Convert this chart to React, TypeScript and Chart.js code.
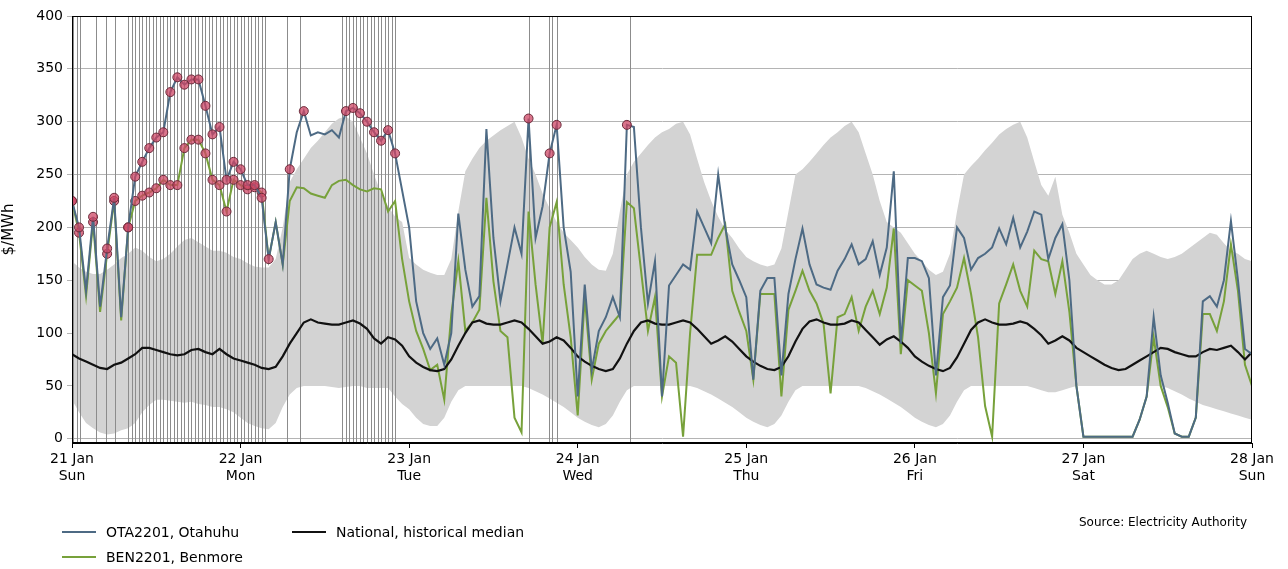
import React, { useEffect, useRef } from "react";
import { Chart, registerables } from "chart.js";
Chart.register(...registerables);

const dayLabels = ["21 Jan", "22 Jan", "23 Jan", "24 Jan", "25 Jan", "26 Jan", "27 Jan", "28 Jan"];
const weekdays = ["Sun", "Mon", "Tue", "Wed", "Thu", "Fri", "Sat", "Sun"];

// hourly values from 21 Jan 00:00 to 28 Jan 00:00
const otaValues = [
  225, 200, 140, 210, 125, 180, 228, 115, 200, 248, 262, 275, 285, 290, 328, 342, 335, 340, 340, 315, 288, 295, 245, 262,
  255, 240, 240, 228, 170, 205, 165, 255, 290, 310, 287, 290, 288, 292, 285, 310, 313, 308, 300, 290, 282, 292, 270, 235,
  200, 130, 100, 85, 95, 70, 100, 213, 160, 125, 135, 293, 190, 130, 165, 200, 175, 303, 190, 220, 270, 297, 200, 158,
  40, 146, 65, 102, 115, 134, 115, 297, 295, 200, 128, 168, 40, 145, 155, 165, 160, 215, 200, 185, 250, 200, 165, 150,
  134, 56, 140, 152, 152, 60, 137, 170, 199, 165, 146, 143, 141, 159, 170, 184, 165, 170, 187, 155, 181, 253, 90, 171,
  171, 168, 152, 60, 134, 145, 200, 190, 160, 171, 175, 181, 199, 184, 209, 181, 196, 215, 212, 170, 190, 203, 150, 50,
  2, 2, 2, 2, 2, 2, 2, 2, 18, 40, 115, 60, 34, 5, 2, 2, 20, 130, 135, 125, 150, 206, 150, 85,
  80,
];
const benValues = [
  225, 195, 135, 205, 120, 175, 225, 112, 200, 225, 230, 233, 237, 245, 240, 240, 275, 283, 283, 270, 245, 240, 215, 245,
  240, 236, 238, 233, 170, 205, 165, 225, 238, 237, 232, 230, 228, 240, 244, 245, 240, 236, 234, 237, 236, 215, 225, 170,
  130, 102, 85, 65, 70, 37, 118, 168, 102, 110, 122, 228, 149, 102, 96, 20, 6, 215, 146, 90, 200, 224, 146, 96,
  22, 134, 56, 90, 102, 110, 118, 224, 218, 160, 102, 134, 40, 78, 72, 2, 100, 174, 174, 174, 190, 203, 140, 120,
  102, 56, 137, 137, 137, 40, 122, 140, 159, 140, 128, 109, 43, 115, 118, 134, 102, 125, 140, 118, 143, 199, 80, 150,
  145, 140, 100, 43, 118, 130, 143, 171, 137, 96, 31, 2, 128, 146, 165, 140, 125, 178, 170, 168, 137, 168, 120, 50,
  2, 2, 2, 2, 2, 2, 2, 2, 18, 40, 96, 50, 30, 5, 2, 2, 20, 118, 118, 102, 130, 184, 140, 70,
  50,
];
const medianValues = [
  80, 76, 73, 70, 67, 66, 70, 72, 76, 80, 86, 86, 84, 82, 80, 79, 80, 84, 85, 82, 80, 85, 80, 76,
  74, 72, 70, 67, 66, 68, 78, 90, 100, 110, 113, 110, 109, 108, 108, 110, 112, 109, 104, 95, 90, 96, 94, 88,
  78, 72, 68, 65, 64, 66, 75, 88, 100, 110, 112, 109, 108, 108, 110, 112, 110, 104, 97, 90, 92, 96, 93, 86,
  78, 73, 69, 66, 64, 66, 76, 90, 102, 110, 112, 109, 108, 108, 110, 112, 110, 104, 97, 90, 93, 97, 92, 85,
  78, 73, 69, 66, 65, 68, 78, 92, 104, 111, 113, 110, 108, 108, 109, 112, 110, 103, 96, 89, 94, 97, 92, 86,
  78, 73, 69, 66, 64, 67, 77, 90, 103, 110, 113, 110, 108, 108, 109, 111, 109, 104, 98, 90, 93, 97, 93, 86,
  82, 78, 74, 70, 67, 65, 66, 70, 74, 78, 82, 86, 85, 82, 80, 78, 78, 82, 85, 84, 86, 88, 82, 75,
  82,
];
const bandUpper = [
  168, 162, 158, 156, 156, 160, 165, 171, 175, 181, 178, 172, 168, 170, 175, 182, 188, 190, 186, 182, 178, 178, 176, 172,
  170, 166, 163, 162, 162, 170, 200, 243, 255, 265, 275, 282, 290, 298, 303, 305, 300, 285, 270, 250, 232, 220, 210, 205,
  171, 165, 160, 157, 155, 155, 170, 215, 253, 265, 275, 282, 287, 292, 296, 300, 285, 265, 250, 232, 218, 205, 195, 188,
  181, 172, 165, 160, 159, 175, 215, 250, 262, 270, 278, 285, 290, 293, 298, 300, 288, 265, 243, 225, 210, 198, 190, 180,
  172, 168, 165, 163, 165, 180, 215, 250, 255, 262, 270, 278, 285, 290, 296, 300, 290, 270, 250, 225, 205, 200, 195, 185,
  175, 168, 160, 155, 158, 175, 215, 250, 258, 265, 273, 280, 288, 293, 297, 300, 285, 262, 240, 230, 248, 212, 195, 175,
  165, 155, 150, 146, 146, 150, 160, 170, 175, 178, 175, 172, 170, 172, 175, 180, 185, 190, 195, 193, 185, 178, 175, 170,
  168,
];
const bandLower = [
  37, 25, 15, 10, 6, 4, 5, 8, 10, 15, 25, 32, 37, 37, 36, 35, 34, 35, 33, 32, 30, 30, 28, 25,
  20, 15, 12, 10, 9, 15, 30, 42, 48, 50, 50, 50, 50, 49, 48, 49, 50, 50, 48, 48, 48, 48, 40, 33,
  28, 20, 14, 12, 12, 20, 35, 46, 50, 50, 50, 50, 50, 50, 50, 50, 50, 48, 45, 42, 38, 34, 30, 25,
  20, 16, 13, 11, 14, 22, 35, 46, 50, 50, 50, 50, 50, 50, 50, 50, 50, 48, 45, 42, 38, 34, 30, 25,
  20, 16, 13, 11, 14, 22, 35, 46, 50, 50, 50, 50, 50, 50, 50, 50, 50, 48, 45, 42, 38, 34, 30, 25,
  20, 16, 13, 11, 14, 22, 35, 46, 50, 50, 50, 50, 50, 50, 50, 50, 50, 48, 46, 44, 44, 46, 48, 50,
  50, 50, 50, 50, 50, 50, 50, 50, 50, 50, 50, 50, 48, 45, 42, 38, 35, 32, 30, 28, 26, 24, 22, 20,
  18,
];
// times (hours from 21 Jan 00:00) of flagged trading periods
const eventTimes = [
  0.2, 0.7, 1.1, 3.4, 4.9, 6.1,
  8, 8.5, 9, 9.5, 10, 10.5, 11, 11.5, 12, 12.5, 13, 13.5, 14, 14.5, 15, 15.5, 16, 16.5, 17, 17.5,
  18, 18.5, 19, 19.5, 20, 20.5, 21, 21.5, 22, 22.5, 23, 23.5, 24, 24.5, 25, 25.5, 26, 26.5, 27, 27.5,
  30.6, 32.5,
  38.5, 39, 39.5, 40, 40.5, 41, 41.5, 42, 42.5, 43, 43.5, 44, 44.5, 45, 45.5, 46,
  65, 67.9, 68.3, 69, 79.4,
];
const otaMarkerHours = [0, 1, 3, 5, 6, 8, 9, 10, 11, 12, 13, 14, 15, 16, 17, 18, 19, 20, 21, 22, 23, 24, 25, 26, 27, 28, 31, 33, 39, 40, 41, 42, 43, 44, 45, 46, 65, 68, 69, 79];
const benMarkerHours = [0, 1, 3, 5, 6, 8, 9, 10, 11, 12, 13, 14, 15, 16, 17, 18, 19, 20, 21, 22, 23, 24, 25, 26, 27];

const toXY = (arr: number[]) => arr.map((y, i) => ({ x: i, y }));

export default function App() {
  const ref = useRef<HTMLCanvasElement>(null);
  useEffect(() => {
    if (!ref.current) return;
    const font = { family: "DejaVu Sans", size: 14 };
    const eventLines = {
      id: "eventLines",
      afterDatasetDraw(chart: any, args: any) {
        if (args.index !== 1) return;
        const { ctx, chartArea, scales } = chart;
        ctx.save();
        ctx.strokeStyle = "#8c8c8c";
        ctx.lineWidth = 1;
        eventTimes.forEach((t) => {
          const x = Math.round(scales.x.getPixelForValue(t)) + 0.5;
          ctx.beginPath();
          ctx.moveTo(x, chartArea.top);
          ctx.lineTo(x, chartArea.bottom);
          ctx.stroke();
        });
        ctx.restore();
      },
    };
    const frame = {
      id: "frame",
      afterDraw(chart: any) {
        const { ctx, chartArea } = chart;
        ctx.save();
        ctx.strokeStyle = "#000";
        ctx.lineWidth = 1;
        ctx.strokeRect(chartArea.left + 0.5, chartArea.top + 0.5, chartArea.width - 1, chartArea.height - 1);
        ctx.restore();
      },
    };
    const markerR = (set: number[]) => (c: any) => (set.includes(c.dataIndex) ? 4.5 : 0);
    const chart = new Chart(ref.current, {
      type: "line",
      data: {
        datasets: [
          { label: "lower", data: toXY(bandLower), borderWidth: 0, pointRadius: 0, fill: false, order: 6, borderColor: "rgba(0,0,0,0)" },
          { label: "upper", data: toXY(bandUpper), borderWidth: 0, pointRadius: 0, fill: "-1", backgroundColor: "#d3d3d3", order: 5, borderColor: "rgba(0,0,0,0)" },
          { label: "National, historical median", data: toXY(medianValues), borderColor: "#111", borderWidth: 2.2, pointRadius: 0, order: 2 },
          {
            label: "BEN2201, Benmore", data: toXY(benValues), borderColor: "#77a13a", borderWidth: 2, order: 3,
            pointRadius: markerR(benMarkerHours) as any, pointBackgroundColor: "rgba(205,70,100,0.75)", pointBorderColor: "#6b2a3a", pointBorderWidth: 1,
          },
          {
            label: "OTA2201, Otahuhu", data: toXY(otaValues), borderColor: "#4d6a84", borderWidth: 2, order: 1,
            pointRadius: markerR(otaMarkerHours) as any, pointBackgroundColor: "rgba(205,70,100,0.75)", pointBorderColor: "#6b2a3a", pointBorderWidth: 1,
          },
        ],
      },
      options: {
        animation: false,
        responsive: false,
        maintainAspectRatio: false,
        layout: { padding: { left: 0, right: 36, top: 16, bottom: 66 } },
        plugins: { legend: { display: false }, tooltip: { enabled: false } },
        scales: {
          x: {
            type: "linear", min: 0, max: 168,
            afterFit: (s: any) => { s.height = 60; },
            afterBuildTicks: (s: any) => { s.ticks = dayLabels.map((_, i) => ({ value: i * 24 })); },
            ticks: { color: "#000", font, maxRotation: 0, autoSkip: false, callback: (v: any) => [dayLabels[v / 24], weekdays[v / 24]] },
            grid: { drawOnChartArea: false, color: "#000", tickLength: 5 },
            border: { color: "#000" },
          },
          y: {
            min: -4, max: 400,
            afterFit: (s: any) => { s.width = 72; },
            afterBuildTicks: (s: any) => { s.ticks = [0, 50, 100, 150, 200, 250, 300, 350, 400].map((v) => ({ value: v })); },
            ticks: { color: "#000", font, padding: 4 },
            grid: { color: "#b4b4b4", tickLength: 5 },
            border: { color: "#000" },
            title: { display: true, text: "$/MWh", color: "#000", font: { family: "DejaVu Sans", size: 15 }, padding: 0 },
          },
        },
      },
      plugins: [eventLines, frame],
    });
    return () => chart.destroy();
  }, []);

  const legendItem = (color: string, text: string, left: number, top: number) => (
    <div style={{ position: "absolute", left, top, display: "flex", alignItems: "center", fontSize: 14, fontFamily: "DejaVu Sans" }}>
      <span style={{ display: "inline-block", width: 34, height: 0, borderTop: `2.5px solid ${color}`, marginRight: 10 }} />
      {text}
    </div>
  );

  return (
    <div style={{ position: "fixed", left: 0, top: 0, width: 1288, height: 569, background: "#fff" }}>
      <canvas ref={ref} width={1288} height={569} style={{ display: "block" }} />
      {legendItem("#4d6a84", "OTA2201, Otahuhu", 62, 524)}
      {legendItem("#77a13a", "BEN2201, Benmore", 62, 549)}
      {legendItem("#111", "National, historical median", 292, 524)}
      <div style={{ position: "absolute", right: 41, top: 515, fontSize: 12, fontFamily: "DejaVu Sans" }}>Source: Electricity Authority</div>
    </div>
  );
}
